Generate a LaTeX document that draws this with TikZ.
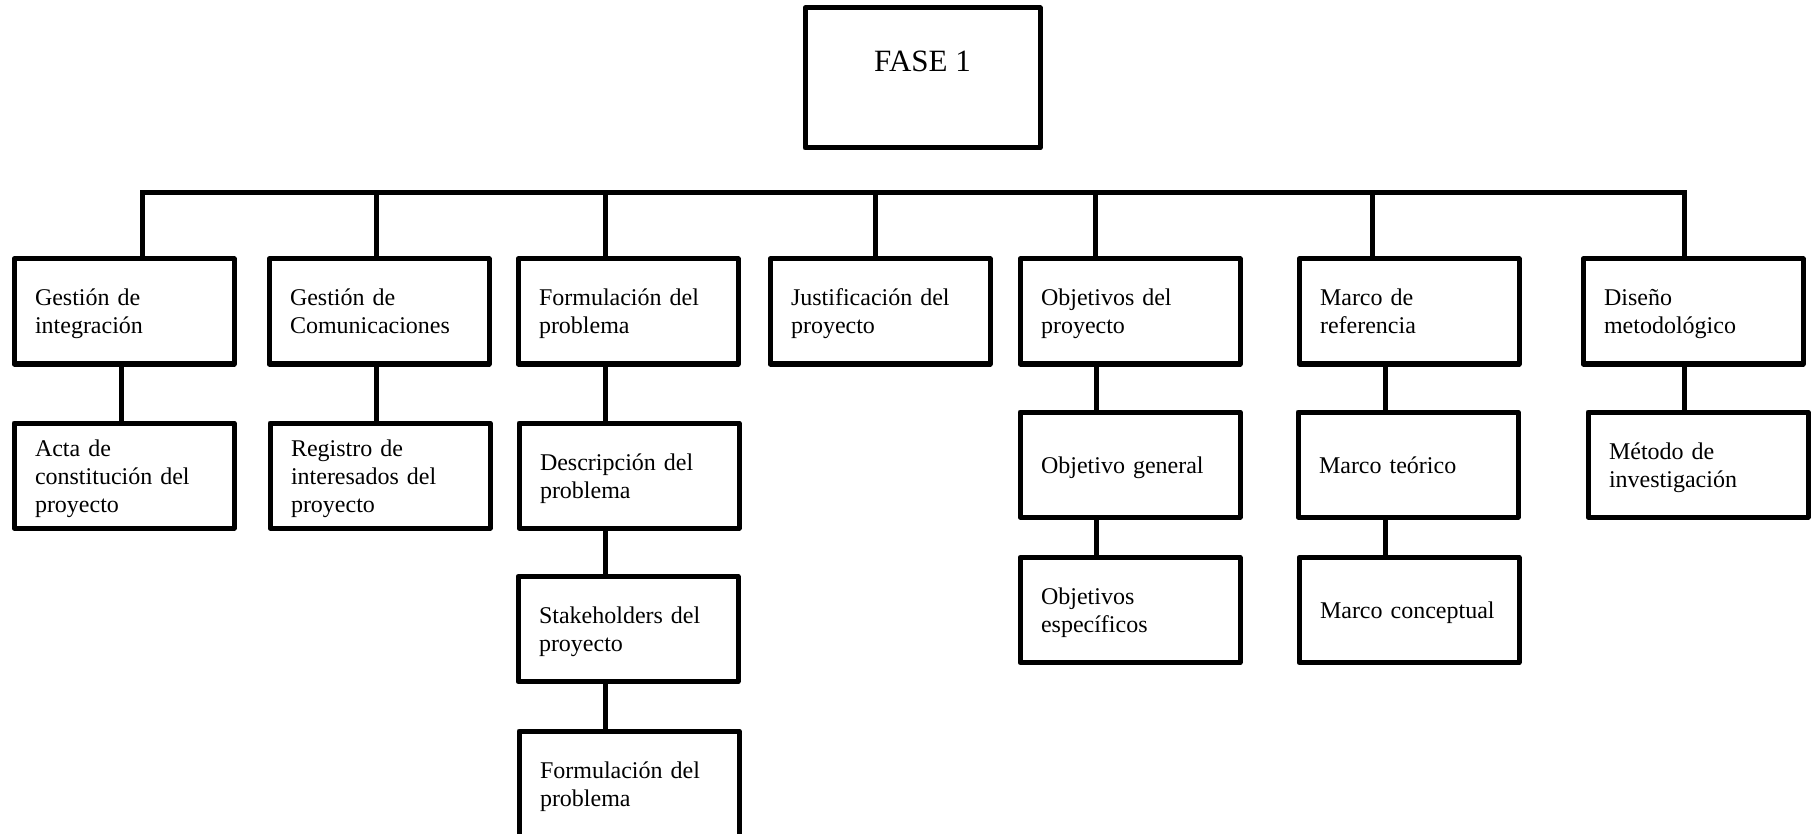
\documentclass[tikz,border=0pt]{standalone}
\usepackage{fontspec}
\setmainfont{Liberation Serif}
\begin{document}
\begin{tikzpicture}[x=1pt,y=-1pt,
  box/.style={draw, line width=5pt, line join=round, rectangle,
    minimum width=220pt, minimum height=105pt, text width=178pt,
    inner xsep=21pt, inner ysep=0pt, align=left,
    font=\fontsize{24}{28}\selectfont,
    execute at begin node=\rule{0pt}{23pt},
    execute at end node=\rule[-6pt]{0pt}{6pt}},
  link/.style={line width=5pt, line join=miter}]
\clip (0,0) rectangle (1813,834);
\fill[white] (0,0) rectangle (1813,834);

% top box
\node[draw, line width=5pt, line join=round, minimum width=235pt, minimum height=140pt,
  font=\fontsize{31}{36}\selectfont, text height=22pt, text depth=34pt] (fase) at (922.5,78) {FASE 1};

% level 1
\node[box] (b1) at (124,311.5) {Gestión de\\integración};
\node[box] (b2) at (379,311.5) {Gestión de\\Comunicaciones};
\node[box] (b3) at (628,311.5) {Formulación del\\problema};
\node[box] (b4) at (880,311.5) {Justificación del\\proyecto};
\node[box] (b5) at (1130,311.5) {Objetivos del\\proyecto};
\node[box] (b6) at (1409,311.5) {Marco de\\referencia};
\node[box] (b7) at (1693,311.5) {Diseño\\metodológico};

% level 2+
\node[box] (a1) at (124,475.5) {Acta de\\constitución del\\proyecto};
\node[box] (a2) at (380,475.5) {Registro de\\interesados del\\proyecto};
\node[box] (a3) at (629,475.5) {Descripción del\\problema};
\node[box] (s3) at (628,629) {Stakeholders del\\proyecto};
\node[box] (f3) at (629,783.5) {Formulación del\\problema};
\node[box] (a5) at (1130,464.5) {Objetivo general};
\node[box] (s5) at (1130,610) {Objetivos\\específicos};
\node[box] (a6) at (1408,464.5) {Marco teórico};
\node[box] (s6) at (1409,610) {Marco conceptual};
\node[box] (a7) at (1698,464.5) {Método de\\investigación};

% bar taps
\coordinate (t1) at (142,193);
\coordinate (t2) at (376,193);
\coordinate (t3) at (605,193);
\coordinate (t4) at (875,193);
\coordinate (t5) at (1095,193);
\coordinate (t6) at (1372,193);
\coordinate (t7) at (1684,193);

\draw[link] (b1.north -| t1) -- (t1) -- (t7) -- (b7.north -| t7);
\foreach \i in {2,...,6} { \draw[link] (t\i) -- (b\i.north -| t\i); }

% column x positions for child links
\coordinate (x1) at (121,0);
\coordinate (x2) at (376,0);
\coordinate (x3) at (605,0);
\coordinate (x5) at (1096,0);
\coordinate (x6) at (1385,0);
\coordinate (x7) at (1684,0);

\draw[link] (b1.south -| x1) -- (a1.north -| x1);
\draw[link] (b2.south -| x2) -- (a2.north -| x2);
\draw[link] (b3.south -| x3) -- (a3.north -| x3);
\draw[link] (a3.south -| x3) -- (s3.north -| x3);
\draw[link] (s3.south -| x3) -- (f3.north -| x3);
\draw[link] (b5.south -| x5) -- (a5.north -| x5);
\draw[link] (a5.south -| x5) -- (s5.north -| x5);
\draw[link] (b6.south -| x6) -- (a6.north -| x6);
\draw[link] (a6.south -| x6) -- (s6.north -| x6);
\draw[link] (b7.south -| x7) -- (a7.north -| x7);
\end{tikzpicture}
\end{document}
